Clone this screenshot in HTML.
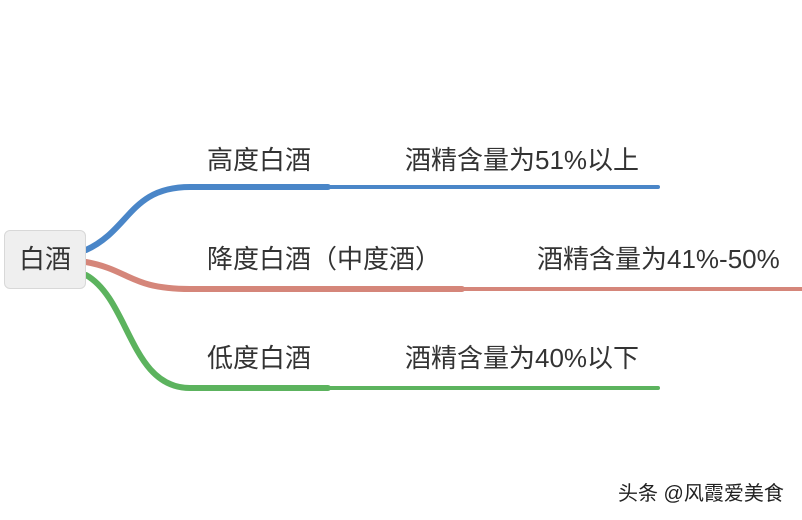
<!DOCTYPE html>
<html><head><meta charset="utf-8"><style>
body{margin:0;width:802px;height:520px;background:#fff;overflow:hidden;position:relative;font-family:"Liberation Sans","Noto Sans CJK SC",sans-serif;color:#333}
.t{position:absolute;font-size:26px;white-space:nowrap;line-height:1}
.box{position:absolute;left:4px;top:230px;width:80px;height:57px;background:#efefef;border:1px solid #d8d8d8;border-radius:6px;font-size:26px;line-height:57px;text-align:center}
</style></head><body>
<svg width="802" height="520" style="position:absolute;left:0;top:0">
<g fill="none" stroke-linecap="round">
<path d="M86 250 C130 230,130 187,190 187 L328 187" stroke="#4a86c8" stroke-width="6"/>
<path d="M328 187 L658 187" stroke="#4a86c8" stroke-width="4"/>
<path d="M86 262 C130 270,130 289,190 289 L462 289" stroke="#d5867a" stroke-width="6"/>
<path d="M462 289 L802 289" stroke="#d5867a" stroke-width="4"/>
<path d="M86 275 C130 300,130 388,190 388 L328 388" stroke="#5cb35e" stroke-width="6"/>
<path d="M328 388 L658 388" stroke="#5cb35e" stroke-width="4"/>
</g></svg>
<div class="box">白酒</div>
<div class="t" style="left:207px;top:147px">高度白酒</div>
<div class="t" style="left:405px;top:147px">酒精含量为51%以上</div>
<div class="t" style="left:207px;top:246px">降度白酒（中度酒）</div>
<div class="t" style="left:537px;top:246px">酒精含量为41%-50%</div>
<div class="t" style="left:207px;top:345px">低度白酒</div>
<div class="t" style="left:405px;top:345px">酒精含量为40%以下</div>
<div class="t" style="left:618px;top:484px;font-size:20px;color:#222">头条 @风霞爱美食</div>
</body></html>
